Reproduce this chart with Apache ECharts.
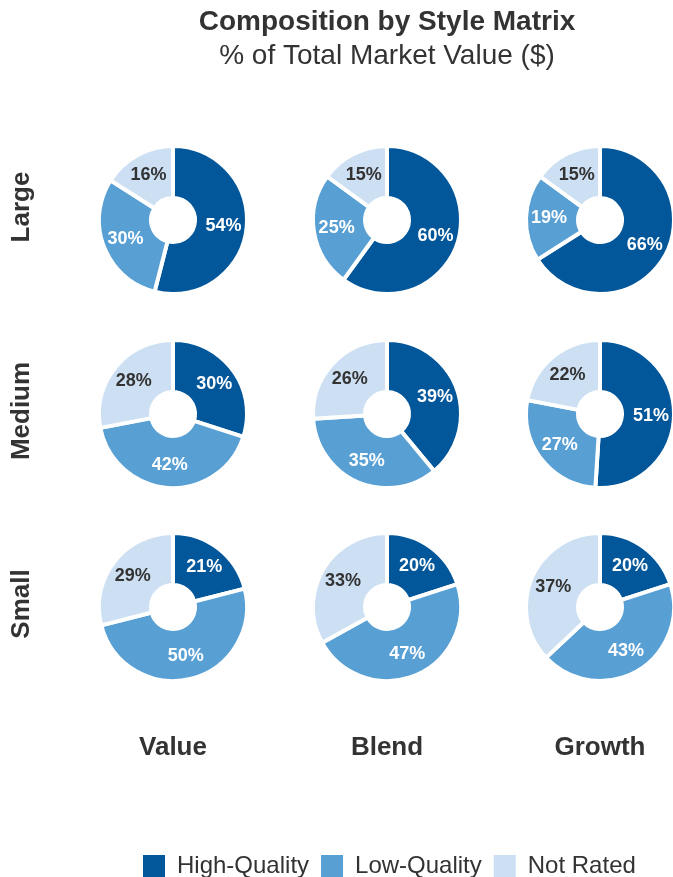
<!DOCTYPE html>
<html>
<head>
<meta charset="utf-8">
<script src="https://cdn.jsdelivr.net/npm/echarts@6/dist/echarts.min.js"></script>
<style>html,body{margin:0;padding:0;background:#fff}#main{width:673px;height:877px}</style>
</head>
<body>
<div id="main"></div>
<script>
var segments = ['High-Quality', 'Low-Quality', 'Not Rated'];
var rows = ['Large', 'Medium', 'Small'];
var cols = ['Value', 'Blend', 'Growth'];
var large = [[54, 30, 16], [60, 25, 15], [66, 19, 15]];
var medium = [[30, 42, 28], [39, 35, 26], [51, 27, 22]];
var small = [[21, 50, 29], [20, 47, 33], [20, 43, 37]];
var matrix = [large, medium, small];

var colors = ['#02569A', '#589FD4', '#CDE0F3'];
var labelColors = ['#ffffff', '#ffffff', '#333333'];
var colX = [173, 387, 600];
var rowY = [220, 414, 607];
var rowLabelY = [207, 411, 604];
var FONT = '"Liberation Sans", Arial, sans-serif';

var series = [];
for (var r = 0; r < 3; r++) {
  for (var c = 0; c < 3; c++) {
    series.push({
      type: 'pie',
      name: rows[r] + ' ' + cols[c],
      center: [colX[c], rowY[r]],
      radius: [22, 74],
      startAngle: 90,
      clockwise: true,
      avoidLabelOverlap: false,
      silent: true,
      itemStyle: { borderColor: '#ffffff', borderWidth: 4 },
      label: {
        show: true,
        position: 'inside',
        formatter: '{c}%',
        fontFamily: FONT,
        fontWeight: 'bold',
        fontSize: 18
      },
      labelLine: { show: false },
      data: matrix[r][c].map(function (v, i) {
        return {
          name: segments[i],
          value: v,
          itemStyle: { color: colors[i] },
          label: { color: labelColors[i] }
        };
      })
    });
  }
}

var graphics = [];
rows.forEach(function (name, i) {
  graphics.push({
    type: 'text',
    x: 22, y: rowLabelY[i],
    rotation: Math.PI / 2,
    style: {
      text: name, fill: '#333333', font: 'bold 26px ' + FONT,
      textAlign: 'center', textVerticalAlign: 'middle'
    }
  });
});
cols.forEach(function (name, i) {
  graphics.push({
    type: 'text',
    x: colX[i], y: 748,
    style: {
      text: name, fill: '#333333', font: 'bold 26px ' + FONT,
      textAlign: 'center', textVerticalAlign: 'middle'
    }
  });
});

var chart = echarts.init(document.getElementById('main'));
chart.setOption({
  backgroundColor: '#ffffff',
  animation: false,
  color: colors,
  title: {
    text: 'Composition by Style Matrix',
    subtext: '% of Total Market Value ($)',
    left: 382,
    textAlign: 'center',
    top: 3,
    itemGap: 6,
    textStyle: { fontFamily: FONT, fontWeight: 'bold', fontSize: 28, color: '#333333' },
    subtextStyle: { fontFamily: FONT, fontSize: 28, color: '#333333' }
  },
  legend: {
    data: segments,
    left: 136,
    top: 848,
    itemWidth: 24,
    itemHeight: 24,
    itemGap: 10,
    icon: 'rect',
    textStyle: { fontFamily: FONT, fontSize: 24, color: '#333333', padding: [0, 0, 0, 6] }
  },
  graphic: graphics,
  series: series
});
</script>
</body>
</html>
